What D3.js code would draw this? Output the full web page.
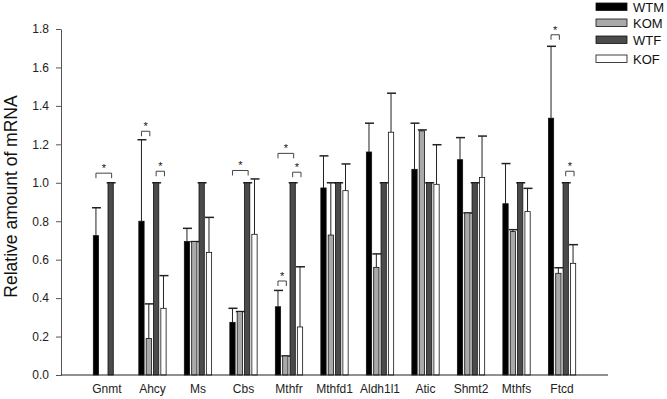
<!DOCTYPE html>
<html>
<head>
<meta charset="utf-8">
<script src="https://cdn.jsdelivr.net/npm/d3@7"></script>
<style>
  body { margin: 0; background: #fff; }
  text { font-family: Arial, "Liberation Sans", sans-serif; }
</style>
</head>
<body>
<div id="chart-area"></div>
<script>
// data
const genes = ["Gnmt", "Ahcy", "Ms", "Cbs", "Mthfr", "Mthfd1", "Aldh1l1", "Atic", "Shmt2", "Mthfs", "Ftcd"]
const seriesNames = ["WTM", "KOM", "WTF", "KOF"]
const wtm = [0.725, 0.80, 0.694, 0.274, 0.355, 0.973, 1.16, 1.07, 1.12, 0.891, 1.336]
const wtmErr = [0.145, 0.424, 0.069, 0.073, 0.085, 0.167, 0.15, 0.24, 0.115, 0.209, 0.374]
const kom = [0, 0.19, 0.694, 0.33, 0.099, 0.728, 0.56, 1.27, 0.843, 0.746, 0.529]
const komErr = [0, 0.18, 0, 0, 0, 0.272, 0.07, 0.005, 0, 0.01, 0.029]
const wtf = [1, 1, 1, 1, 1, 1, 1, 1, 1, 1, 1]
const wtfErr = [0, 0, 0, 0, 0, 0, 0, 0, 0, 0, 0]
const kof = [0, 0.347, 0.638, 0.732, 0.25, 0.959, 1.263, 0.992, 1.027, 0.85, 0.581]
const kofErr = [0, 0.17, 0.182, 0.288, 0.313, 0.139, 0.203, 0.206, 0.216, 0.121, 0.097]
const yTicks = [0, 0.2, 0.4, 0.6, 0.8, 1.0, 1.2, 1.4, 1.6, 1.8]
// significance brackets: gene, from series, to series, height
const sigGene = ["Gnmt", "Ahcy", "Ahcy", "Cbs", "Mthfr", "Mthfr", "Mthfr", "Ftcd", "Ftcd"]
const sigFrom = ["WTM", "WTM", "WTF", "WTM", "WTM", "WTF", "WTM", "WTM", "WTF"]
const sigTo = ["WTF", "KOM", "KOF", "WTF", "WTF", "KOF", "KOM", "KOM", "KOF"]
const sigLevel = [1.05, 1.268, 1.06, 1.064, 1.153, 1.055, 0.489, 1.77, 1.06]

const means = [wtm, kom, wtf, kof]
const errs = [wtmErr, komErr, wtfErr, kofErr]
const colors = ["#000000", "#a9a9a9", "#4b4b4b", "#ffffff"]

const W = 667, H = 399
const svg = d3.select("#chart-area").append("svg")
  .attr("width", W)
  .attr("height", H)

const x = d3.scaleBand()
  .domain(genes)
  .range([61, 608])
  .paddingInner(0.4)
  .paddingOuter(0.71)

const xs = d3.scaleBand()
  .domain(seriesNames)
  .range([0, x.bandwidth()])
  .paddingInner(0.28)
  .paddingOuter(0)

const y = d3.scaleLinear()
  .domain([0, 1.8])
  .range([375, 29])

// y axis
const yAxis = svg.append("g")
  .attr("transform", "translate(61,0)")
  .call(d3.axisLeft(y).tickValues(yTicks).tickFormat(d3.format(".1f")).tickSize(5).tickPadding(7).tickSizeOuter(0))
yAxis.select(".domain").attr("stroke", "#555")
yAxis.selectAll(".tick line").attr("stroke", "#555")
yAxis.selectAll("text").attr("font-size", "12px").attr("fill", "#222")

// y label
svg.append("text")
  .attr("transform", "translate(17,196.5) rotate(-90)")
  .attr("text-anchor", "middle")
  .attr("font-size", "17.5px")
  .attr("fill", "#111")
  .text("Relative amount of mRNA")

// bars
const rows = []
genes.forEach((g, i) => {
  seriesNames.forEach((s, j) => {
    rows.push({ gene: g, s: s, j: j, v: means[j][i], e: errs[j][i] })
  })
})

const bx = d => x(d.gene) + xs(d.s)
const bc = d => bx(d) + xs.bandwidth() / 2

// error bars (drawn first so bars sit on top of the stem)
const withErr = rows.filter(d => d.v > 0)
svg.selectAll(".err").data(withErr).enter().append("line")
  .attr("x1", bc).attr("x2", bc)
  .attr("y1", d => y(d.v)).attr("y2", d => y(d.v + d.e))
  .attr("stroke", "#222").attr("stroke-width", 1)
svg.selectAll(".cap").data(withErr).enter().append("line")
  .attr("x1", d => bc(d) - 4).attr("x2", d => bc(d) + 5)
  .attr("y1", d => y(d.v + d.e)).attr("y2", d => y(d.v + d.e))
  .attr("stroke", "#222").attr("stroke-width", 1.5)

svg.selectAll(".bar").data(rows.filter(d => d.v > 0)).enter().append("rect")
  .attr("x", bx)
  .attr("y", d => y(d.v))
  .attr("width", xs.bandwidth())
  .attr("height", d => y(0) - y(d.v))
  .attr("fill", d => colors[d.j])
  .attr("stroke", "#111")
  .attr("stroke-width", 0.8)

// x axis line and labels
svg.append("line")
  .attr("x1", 61).attr("x2", 608)
  .attr("y1", 375).attr("y2", 375)
  .attr("stroke", "#222").attr("stroke-width", 1.2)

svg.selectAll(".xlab").data(genes).enter().append("text")
  .attr("x", d => x(d) + x.bandwidth() / 2)
  .attr("y", 393)
  .attr("text-anchor", "middle")
  .attr("font-size", "12px")
  .attr("fill", "#222")
  .text(d => d)

// significance brackets
sigGene.forEach((g, i) => {
  const x1 = x(g) + xs(sigFrom[i]) + xs.bandwidth() / 2
  const x2 = x(g) + xs(sigTo[i]) + xs.bandwidth() / 2 + 1
  const yy = y(sigLevel[i])
  svg.append("path")
    .attr("d", `M${x1},${yy + 5}V${yy}H${x2}V${yy + 5}`)
    .attr("fill", "none")
    .attr("stroke", "#444")
    .attr("stroke-width", 1)
  svg.append("text")
    .attr("x", (x1 + x2) / 2)
    .attr("y", yy - 1)
    .attr("text-anchor", "middle")
    .attr("font-size", "11px")
    .attr("fill", "#111")
    .text("*")
})

// legend
const legendY = [3, 19, 36, 55]
seriesNames.forEach((s, j) => {
  svg.append("rect")
    .attr("x", 596).attr("y", legendY[j])
    .attr("width", 31).attr("height", 7.5)
    .attr("fill", colors[j])
    .attr("stroke", "#111").attr("stroke-width", 0.8)
  svg.append("text")
    .attr("x", 633).attr("y", legendY[j] + 8.5)
    .attr("font-size", "13px")
    .attr("fill", "#111")
    .text(s)
})
</script>
</body>
</html>
